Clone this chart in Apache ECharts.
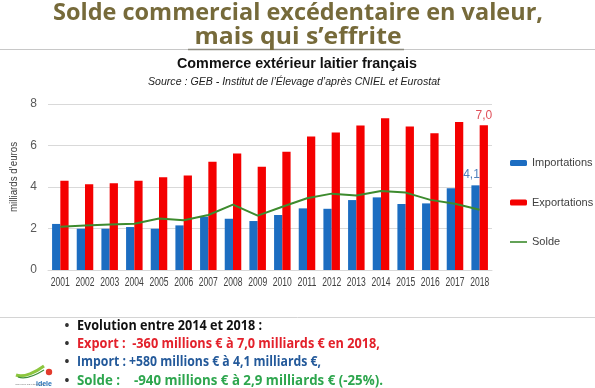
<!DOCTYPE html>
<html>
<head>
<meta charset="utf-8">
<script src="https://cdn.jsdelivr.net/npm/echarts@6/dist/echarts.min.js"></script>
<style>
html,body{margin:0;padding:0;background:#fff;}
#c{width:595px;height:388px;}
</style>
</head>
<body>
<div id="c"></div>
<script>
var years = ['2001','2002','2003','2004','2005','2006','2007','2008','2009','2010','2011','2012','2013','2014','2015','2016','2017','2018'];
var importations = [2.22,1.99,1.99,2.07,1.99,2.15,2.57,2.47,2.36,2.65,2.97,2.95,3.37,3.50,3.18,3.21,3.94,4.08];
var exportations = [4.30,4.13,4.18,4.30,4.47,4.55,5.22,5.62,4.98,5.70,6.43,6.63,6.96,7.31,6.91,6.59,7.13,6.98];
var solde = [2.08,2.14,2.19,2.23,2.48,2.40,2.65,3.15,2.62,3.05,3.46,3.68,3.59,3.81,3.73,3.38,3.19,2.90];
var yTicks = [0,2,4,6,8];

var mctx = document.createElement('canvas').getContext('2d');
function fitText(text, font, targetW, x, y, color, align, extra) {
  mctx.font = font;
  var w = mctx.measureText(text).width;
  var s = targetW / w;
  var el = {type:'text', x:x, y:y, scaleX:s, z:10,
    style:{text:text, font:font, fill:color, align:align||'center', verticalAlign:'middle'}};
  if (extra) for (var k in extra) el[k] = extra[k];
  return el;
}

var chart = echarts.init(document.getElementById('c'), null, {renderer:'canvas'});
var lastIdx = years.length - 1;

var graphics = [
  fitText('Solde commercial excédentaire en valeur,', 'bold 23px "Open Sans"', 490, 298, 13, '#766a3a'),
  fitText('mais qui s\u2019effrite', 'bold 23px "Open Sans"', 207, 298, 37, '#766a3a'),
  {type:'line', shape:{x1:0,y1:49.5,x2:595,y2:49.5}, style:{stroke:'#c8c8c8', lineWidth:1.2}},
  {type:'line', shape:{x1:188,y1:49.5,x2:404,y2:49.5}, style:{stroke:'#8c8a80', lineWidth:1.6}},
  fitText('Commerce extérieur laitier français', 'bold 15px "Liberation Sans"', 240, 297, 64, '#111'),
  fitText('Source : GEB - Institut de l\u2019Élevage d\u2019après CNIEL et Eurostat', 'italic 11px "Liberation Sans"', 292, 294, 82, '#222'),
  fitText('milliards d\u2019euros', '11px "Liberation Sans"', 70, 14, 177, '#404040', 'center', {rotation:Math.PI/2}),
  {type:'line', shape:{x1:0,y1:317.5,x2:595,y2:317.5}, style:{stroke:'#d4d4d4', lineWidth:1}},
  {type:'text', x:67, y:326, z:10, style:{text:'\u2022', font:'bold 13px "Open Sans"', fill:'#333', align:'center', verticalAlign:'middle'}},
  {type:'text', x:67, y:344, z:10, style:{text:'\u2022', font:'bold 13px "Open Sans"', fill:'#333', align:'center', verticalAlign:'middle'}},
  {type:'text', x:67, y:362, z:10, style:{text:'\u2022', font:'bold 13px "Open Sans"', fill:'#333', align:'center', verticalAlign:'middle'}},
  {type:'text', x:67, y:381, z:10, style:{text:'\u2022', font:'bold 13px "Open Sans"', fill:'#333', align:'center', verticalAlign:'middle'}},
  fitText('Evolution entre 2014 et 2018 :', 'bold 14.5px "Open Sans"', 185, 77, 326, '#111', 'left'),
  fitText('Export :  -360 millions \u20ac à 7,0 milliards \u20ac en 2018,', 'bold 14.5px "Open Sans"', 303, 77, 344, '#e3212b', 'left'),
  fitText('Import : +580 millions \u20ac à 4,1 milliards \u20ac,', 'bold 14.5px "Open Sans"', 244, 77, 362, '#23599a', 'left'),
  fitText('Solde :    -940 millions \u20ac à 2,9 milliards \u20ac (-25%).', 'bold 14.5px "Open Sans"', 306, 77, 381, '#2ea64e', 'left'),
  // logo approximation
  {type:'bezierCurve', shape:{x1:16,y1:375,x2:44,y2:366,cpx1:24,cpy1:378,cpx2:36,cpy2:372}, style:{stroke:'#8cc63e', lineWidth:3, fill:null}, z:12},
  {type:'bezierCurve', shape:{x1:18,y1:377,x2:44,y2:370,cpx1:26,cpy1:380,cpx2:36,cpy2:375}, style:{stroke:'#3f8f3a', lineWidth:1.2, fill:null}, z:12},
  {type:'circle', shape:{cx:49,cy:372,r:3.2}, style:{fill:'#e23a2c'}, z:12},
  {type:'text', x:36, y:384, z:12, style:{text:'idele', font:'bold 7px "Liberation Sans"', fill:'#1e6cb5', align:'left', verticalAlign:'middle'}},
  {type:'text', x:15, y:384, z:12, style:{text:'INSTITUT DE L\u2019ÉLEVAGE', font:'2.5px "Liberation Sans"', fill:'#777', align:'left', verticalAlign:'middle'}}
];

var option = {
  backgroundColor:'#ffffff',
  animation:false,
  textStyle:{fontFamily:'"Liberation Sans", Arial, sans-serif'},
  grid:{left:48, right:103, top:104, bottom:118},
  legend:{
    orient:'vertical', left:505, top:151,
    itemWidth:17, itemHeight:6, itemGap:25.5,
    textStyle:{fontSize:11, color:'#404040', lineHeight:14},
    data:[{name:'Importations'},{name:'Exportations'},{name:'Solde', icon:'path://M0,0H17V1.6H0Z'}]
  },
  xAxis:{
    type:'category', data:years,
    axisTick:{show:false},
    axisLine:{lineStyle:{color:'#d9d9d9'}},
    axisLabel:{show:false}
  },
  yAxis:{
    type:'value', min:yTicks[0], max:yTicks[yTicks.length-1], interval:2,
    axisLine:{show:false}, axisTick:{show:false},
    splitLine:{lineStyle:{color:'#d9d9d9', width:1}},
    axisLabel:{fontSize:12, color:'#595959', margin:11}
  },
  series:[
    {name:'Importations', type:'bar', data:importations.map(function(v,i){
        return i===lastIdx ? {value:v, label:{show:true, position:'top', distance:5, offset:[-4,0], formatter:'4,1', color:'#4f81bd', fontSize:12}} : v;
      }),
      barGap:'0%', barCategoryGap:'33%', itemStyle:{color:'#1c6dc1'}},
    {name:'Exportations', type:'bar', data:exportations.map(function(v,i){
        return i===lastIdx ? {value:v, label:{show:true, position:'top', distance:3, formatter:'7,0', color:'#e0505a', fontSize:12}} : v;
      }),
      barGap:'0%', barCategoryGap:'33%', itemStyle:{color:'#f40000'}},
    {name:'Solde', type:'line', data:solde, symbol:'none', showSymbol:false, z:5,
      lineStyle:{color:'#3d8b2e', width:2}, itemStyle:{color:'#3d8b2e'}}
  ],
  graphic:graphics
};
chart.setOption(option);

// Category tick labels, positioned through the category axis scale
var baseY = chart.convertToPixel({yAxisIndex:0}, 0);
years.forEach(function(y, i){
  var px = chart.convertToPixel({xAxisIndex:0}, i);
  graphics.push(fitText(y, '12.5px "Liberation Sans"', 19, px, baseY + 13, '#404040'));
});
chart.setOption({graphic:graphics}, {replaceMerge:['graphic']});
</script>
</body>
</html>
